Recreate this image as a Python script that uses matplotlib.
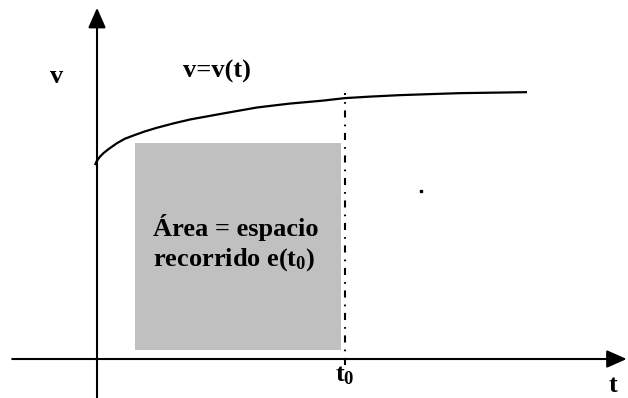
import matplotlib
matplotlib.use("Agg")
import matplotlib.pyplot as plt
from matplotlib.patches import Rectangle

plt.rcParams["font.family"] = "Liberation Serif"
plt.rcParams["font.weight"] = "bold"
plt.rcParams["mathtext.fontset"] = "custom"
plt.rcParams["mathtext.rm"] = "Liberation Serif:bold"
plt.rcParams["mathtext.it"] = "Liberation Serif:bold"
plt.rcParams["mathtext.bf"] = "Liberation Serif:bold"

# velocity curve v(t), read point by point
t_curve = [-0.04, -0.006, 0.06, 0.13, 0.23, 0.40, 0.56, 0.77, 0.97, 1.20, 1.54, 1.88,
           2.21, 2.54, 2.88, 3.22, 3.55, 3.89, 4.23, 4.56, 5.0, 5.5, 6.11, 6.7, 7.32,
           8.0, 8.67]
v_curve = [3.91, 3.99, 4.08, 4.15, 4.23, 4.35, 4.44, 4.52, 4.59, 4.66, 4.75, 4.83,
           4.89, 4.95, 5.01, 5.07, 5.11, 5.15, 5.18, 5.21, 5.26, 5.29, 5.32, 5.34, 5.36,
           5.37, 5.38]

t0 = 5.0
area_t = [0.77, 4.92]
area_v = [0.18, 4.35]
stray_dot = (6.53, 3.39)

t_axis = [-1.71, 10.68]
v_axis = [-0.79, 7.08]

fig = plt.figure(figsize=(6.28, 3.98), dpi=100)
ax = fig.add_axes([0, 0, 1, 1])
ax.set_xlim(-1.956, 10.706)
ax.set_ylim(-0.786, 7.238)
ax.axis("off")

# shaded area under the curve
ax.add_patch(Rectangle((area_t[0], area_v[0]), area_t[1] - area_t[0],
                       area_v[1] - area_v[0], facecolor="#c0c0c0", edgecolor="none"))

# axes with arrow heads
arrow = dict(arrowstyle="-|>,head_length=0.61,head_width=0.27", mutation_scale=20,
             lw=1.5, color="black", shrinkA=0, shrinkB=0)
ax.annotate("", xy=(t_axis[1], 0), xytext=(t_axis[0], 0), arrowprops=arrow)
ax.annotate("", xy=(0, v_axis[1]), xytext=(0, v_axis[0]), arrowprops=arrow)

ax.plot(t_curve, v_curve, color="black", lw=1.6, solid_capstyle="butt",
        solid_joinstyle="round")

# t0 marker line
ax.plot([t0, t0], [-0.12, 5.36], color="black", lw=1.5,
        linestyle=(0, (3.4, 3.2, 0.8, 3.4)), dash_capstyle="butt")

ax.plot(*stray_dot, marker="s", ms=1.6, color="black")

fs = 19
ax.text(-0.81, 5.69, "v", fontsize=fs, ha="center", va="center")
ax.text(1.73, 5.79, "v=v(t)", fontsize=fs, ha="left", va="center")
ax.text(1.13, 2.66, "Área = espacio", fontsize=fs, ha="left", va="center")
ax.text(1.13, 2.0, "recorrido e(t$_0$)", fontsize=fs, ha="left", va="center")
ax.text(4.8, -0.34, "t$_0$", fontsize=fs, ha="left", va="center")
ax.text(10.40, -0.54, "t", fontsize=fs, ha="center", va="center")

fig.savefig("out.png", dpi=100)
